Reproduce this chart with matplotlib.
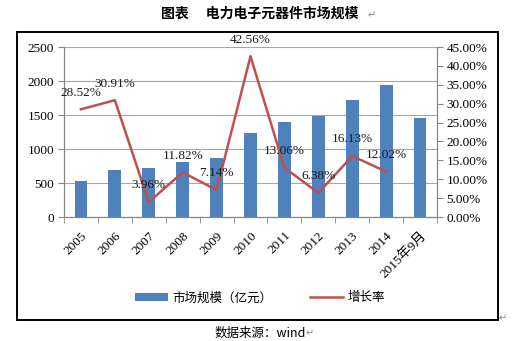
import matplotlib
matplotlib.use('Agg')
import matplotlib.pyplot as plt
import numpy as np
from matplotlib.patches import Rectangle

plt.rcParams['font.family'] = ['Liberation Serif', 'Noto Sans CJK SC', 'DejaVu Sans']

# data
years = ['2005', '2006', '2007', '2008', '2009', '2010', '2011',
         '2012', '2013', '2014', '2015年9月']
market = [527, 689, 718, 802, 871, 1235, 1398, 1481, 1727, 1934, 1452]
growth = [28.52, 30.91, 3.96, 11.82, 7.14, 42.56, 13.06, 6.38, 16.13, 12.02]

bar_color = '#4F81BD'
line_color = '#C0504D'
axis_gray = '#868686'

fig = plt.figure(figsize=(5.12, 3.41), dpi=100)
fig.patch.set_facecolor('white')

# outer frame of the chart object
fig.add_artist(Rectangle((17 / 512, 1 - 320 / 341), (498 - 17) / 512, (320 - 32) / 341,
                         transform=fig.transFigure, fill=False, edgecolor='black',
                         linewidth=1.4))

ax = fig.add_axes([64 / 512, 1 - 217 / 341, (437 - 64) / 512, (217 - 47) / 341])
ax2 = ax.twinx()

x = np.arange(len(years))
bars = ax.bar(x, market, width=0.38, color=bar_color, zorder=2, label='市场规模（亿元）')
ax.set_xlim(-0.5, len(years) - 0.5)
ax.set_ylim(0, 2500)
ax.set_yticks(np.arange(0, 2501, 500))
ax.grid(axis='y', color='#A6A6A6', linewidth=0.8, zorder=0)
ax.set_axisbelow(True)

ax.set_xticks(x)
ax.set_xticklabels(years, rotation=45, ha='right', rotation_mode='anchor', fontsize=9.5)
ax.set_xticks(np.arange(-0.5, len(years)), minor=True)
ax.tick_params(axis='x', which='major', length=0, pad=9)
ax.tick_params(axis='x', which='minor', length=4, color=axis_gray)
ax.tick_params(axis='y', labelsize=9.5, length=4, color=axis_gray, pad=3)

gx = x[:len(growth)]
line, = ax2.plot(gx, growth, color=line_color, linewidth=1.8, zorder=3, label='增长率')
ax2.set_ylim(0, 45)
ax2.set_yticks(np.arange(0, 46, 5))
ax2.set_yticklabels(['%.2f%%' % v for v in np.arange(0, 46, 5)], fontsize=9.5)
ax2.tick_params(axis='y', length=4, color=axis_gray, pad=3)

for xi, g in zip(gx, growth):
    ax2.annotate('%.2f%%' % g, (xi, g), xytext=(0, 12), textcoords='offset points',
                 ha='center', va='center', fontsize=9.5, color='#1a1a1a')

for a in (ax, ax2):
    a.spines['top'].set_visible(False)
    for s in ('left', 'right', 'bottom'):
        a.spines[s].set_color(axis_gray)
        a.spines[s].set_linewidth(0.8)

fig.legend(handles=[bars, line], loc='center', bbox_to_anchor=(260 / 512, 1 - 298 / 341),
           ncol=2, frameon=False, prop={'family': ['Noto Sans CJK SC'], 'size': 9},
           handlelength=2.6, handleheight=0.6, columnspacing=3.0, handletextpad=0.4)

fig.text(260 / 512, 1 - 14 / 341, '图表　 电力电子元器件市场规模', ha='center', va='center',
         fontsize=10, fontweight='bold', family=['Noto Sans CJK SC'])
fig.text(372 / 512, 1 - 15 / 341, '↵', ha='center', va='center', fontsize=7,
         color='#888888', family=['DejaVu Sans'])
fig.text(260 / 512, 1 - 333 / 341, '数据来源：wind', ha='center', va='center',
         fontsize=9, family=['Noto Sans CJK SC'])
fig.text(306 / 512, 1 - 333 / 341, '↵', ha='left', va='center', fontsize=7,
         color='#888888', family=['DejaVu Sans'])
fig.text(503 / 512, 1 - 318 / 341, '↵', ha='center', va='center', fontsize=7,
         color='#888888', family=['DejaVu Sans'])

fig.savefig('out.png', dpi=100)
